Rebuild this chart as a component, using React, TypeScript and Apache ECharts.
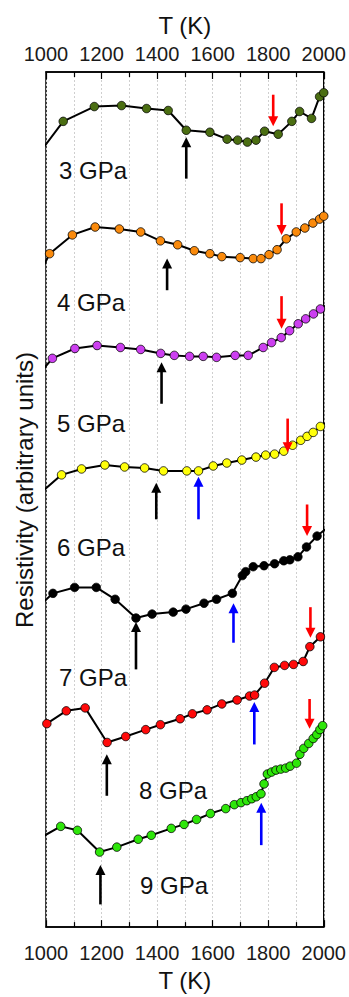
import React, { useEffect, useRef } from "react";
import * as echarts from "echarts";

const FONT = "'Liberation Sans', Arial, sans-serif";

// Temperature (K) and resistivity (arbitrary units, vertical offset per curve)
const T3 = [990, 1062, 1174, 1272, 1362, 1440, 1505, 1590, 1652, 1690, 1725, 1756, 1787, 1836, 1885, 1913, 1956, 1985, 2000];
const R3 = [789, 816, 831, 832, 829, 827, 807, 805, 798, 797, 795, 797, 806, 803, 816, 826, 819, 841, 845];

const T4 = [990, 1013, 1095, 1177, 1264, 1341, 1412, 1474, 1534, 1590, 1633, 1699, 1746, 1774, 1803, 1832, 1865, 1901, 1932, 1961, 1985, 2000];
const R4 = [669, 682, 701, 709, 707, 704, 695, 691, 685, 682, 679, 678, 677, 677, 681, 686, 697, 704, 708, 713, 717, 720];

const T5 = [990, 1023, 1104, 1184, 1268, 1341, 1413, 1462, 1517, 1566, 1614, 1681, 1728, 1782, 1812, 1847, 1877, 1908, 1935, 1963, 1988, 2010];
const R5 = [565, 576, 586, 589, 587, 585, 581, 579, 578, 578, 577, 579, 579, 587, 592, 597, 604, 611, 616, 621, 626, 630];

const T6 = [990, 1056, 1128, 1212, 1283, 1355, 1423, 1507, 1549, 1602, 1651, 1705, 1756, 1791, 1823, 1856, 1888, 1917, 1940, 1962, 1988, 2010];
const R6 = [442, 458, 464, 468, 466, 465, 462, 462, 462, 467, 470, 473, 476, 478, 479, 482, 488, 493, 497, 501, 507, 511];

const T7 = [990, 1025, 1103, 1181, 1249, 1324, 1382, 1458, 1504, 1569, 1614, 1671, 1707, 1719, 1746, 1785, 1823, 1856, 1878, 1907, 1938, 1976, 2010];
const R7 = [329, 338, 344, 344, 332, 313, 317, 319, 322, 328, 332, 338, 356, 360, 365, 366, 368, 371, 372, 375, 385, 396, 404];

const T8 = [1003, 1073, 1141, 1220, 1287, 1359, 1412, 1483, 1527, 1580, 1633, 1688, 1733, 1751, 1787, 1822, 1859, 1891, 1926, 1950, 1988];
const R8 = [206, 219, 222, 187, 193, 200, 205, 211, 216, 220, 226, 230, 234, 235, 247, 263, 265, 266, 269, 284, 294];

const T9 = [990, 1053, 1113, 1193, 1255, 1332, 1379, 1451, 1497, 1542, 1592, 1647, 1678, 1702, 1723, 1741, 1757, 1774, 1785, 1797, 1812, 1828, 1845, 1863, 1879, 1902, 1914, 1928, 1946, 1962, 1975, 1986, 1996];
const R9 = [92, 102, 98, 76, 81, 89, 93, 100, 104, 109, 115, 120, 124, 126, 128, 130, 132, 135, 145, 155, 157, 159, 160, 161, 163, 166, 175, 181, 186, 191, 195, 200, 204];

const CURVES = [
  { name: "3 GPa", T: T3, R: R3, color: "#4b6e12" },
  { name: "4 GPa", T: T4, R: R4, color: "#fa8a0c" },
  { name: "5 GPa", T: T5, R: R5, color: "#cc3ff0" },
  { name: "6 GPa", T: T6, R: R6, color: "#ffff0a" },
  { name: "7 GPa", T: T7, R: R7, color: "#000000" },
  { name: "8 GPa", T: T8, R: R8, color: "#ff0a0a" },
  { name: "9 GPa", T: T9, R: R9, color: "#2ee60a" },
];

// Arrows: temperature, tail value, tip value, colour index
const ARROW_COLORS = ["#000000", "#ff0000", "#0000ff"];
const arrowT = [1505, 1818, 1436, 1848, 1848, 1416, 1397, 1549, 1870, 1324, 1675, 1940, 1219, 1750, 1952, 1196, 1775, 1949];
const arrowTail = [758, 843, 645, 733, 639, 530, 413, 413, 515, 261, 288, 428, 133, 185, 324, 23, 83, 231];
const arrowTip = [800, 811, 677, 701, 606, 572, 450, 456, 481, 309, 328, 396, 175, 228, 293, 63, 126, 201];
const arrowColor = [0, 1, 0, 1, 1, 0, 0, 2, 1, 0, 2, 1, 0, 2, 1, 0, 2, 1];

// Pressure labels (pixel placement)
const LABELS = [
  { text: "3 GPa", x: 59, y: 170 },
  { text: "4 GPa", x: 57, y: 302 },
  { text: "5 GPa", x: 57, y: 423 },
  { text: "6 GPa", x: 57, y: 547 },
  { text: "7 GPa", x: 59, y: 677 },
  { text: "8 GPa", x: 139, y: 790 },
  { text: "9 GPa", x: 140, y: 885 },
];

const gridLine = { color: "#cfcfcf", type: [2, 2], width: 1 };

function xAxis(position: "top" | "bottom") {
  const bottom = position === "bottom";
  return {
    type: "value",
    position,
    min: 1000,
    max: 2000,
    interval: 200,
    name: "T (K)",
    nameLocation: "middle",
    nameGap: bottom ? 37 : 35,
    nameTextStyle: { fontSize: 24, color: "#111", fontFamily: FONT },
    axisLine: { show: true, lineStyle: { color: "#000", width: 1.5 } },
    axisTick: { show: true, inside: true, length: 7, lineStyle: { color: "#000", width: 1.2 } },
    minorTick: { show: true, splitNumber: 2, length: 5, lineStyle: { color: "#000", width: 1.2 } },
    axisLabel: {
      fontSize: 20,
      color: "#1a1a1a",
      fontFamily: FONT,
      margin: bottom ? 16 : 8,
      formatter: (v: number) => String(v),
    },
    splitLine: { show: bottom, lineStyle: gridLine },
    minorSplitLine: { show: bottom, lineStyle: gridLine },
  };
}

export default function App() {
  const ref = useRef<HTMLDivElement>(null);
  useEffect(() => {
    document.body.style.margin = "0";
    if (!ref.current) return;
    const chart = echarts.init(ref.current, undefined, { renderer: "svg" });
    const series: any[] = CURVES.map((c) => ({
      type: "line",
      name: c.name,
      data: c.T.map((t, i) => [t, c.R[i]]),
      symbol: "circle",
      symbolSize: 8.5,
      showAllSymbol: true,
      clip: true,
      itemStyle: { color: c.color, borderColor: "#000", borderWidth: 0.8 },
      lineStyle: { color: "#000", width: 2 },
      z: 3,
    }));
    series.push({
      type: "custom",
      clip: false,
      z: 5,
      data: arrowT.map((t, i) => [t, arrowTail[i], arrowTip[i], arrowColor[i]]),
      encode: { x: 0, y: [1, 2] },
      renderItem: (params: any, api: any) => {
        const p1 = api.coord([api.value(0), api.value(1)]);
        const p2 = api.coord([api.value(0), api.value(2)]);
        const color = ARROW_COLORS[api.value(3)];
        const d = p2[1] > p1[1] ? 1 : -1;
        const h = 10;
        const w = 5;
        const base = p2[1] - d * h;
        return {
          type: "group",
          children: [
            {
              type: "line",
              shape: { x1: p1[0], y1: p1[1], x2: p2[0], y2: base + d * 1 },
              style: { stroke: color, lineWidth: 2.6 },
            },
            {
              type: "polygon",
              shape: { points: [[p2[0], p2[1]], [p2[0] - w, base], [p2[0] + w, base]] },
              style: { fill: color },
            },
          ],
        };
      },
    });
    chart.setOption({
      animation: false,
      backgroundColor: "#fff",
      textStyle: { fontFamily: FONT },
      grid: {
        left: 46,
        top: 72,
        width: 279,
        height: 866,
        show: true,
        borderColor: "#000",
        borderWidth: 1.5,
        backgroundColor: "transparent",
      },
      xAxis: [xAxis("bottom"), xAxis("top")],
      yAxis: {
        type: "value",
        min: 0,
        max: 866,
        axisLine: { show: false },
        axisTick: { show: false },
        axisLabel: { show: false },
        splitLine: { show: false },
      },
      series,
      graphic: [
        {
          type: "text",
          x: 24,
          y: 490,
          rotation: Math.PI / 2,
          style: {
            text: "Resistivity (arbitrary units)",
            fontSize: 24,
            fontFamily: FONT,
            fill: "#111",
            align: "center",
            verticalAlign: "middle",
          },
        },
        ...LABELS.map((l) => ({
          type: "text",
          x: l.x,
          y: l.y,
          z: 10,
          style: {
            text: l.text,
            fontSize: 24,
            fontFamily: FONT,
            fill: "#111",
            align: "left",
            verticalAlign: "middle",
          },
        })),
      ],
    });
    return () => chart.dispose();
  }, []);
  return <div ref={ref} style={{ width: 349, height: 997 }} />;
}
